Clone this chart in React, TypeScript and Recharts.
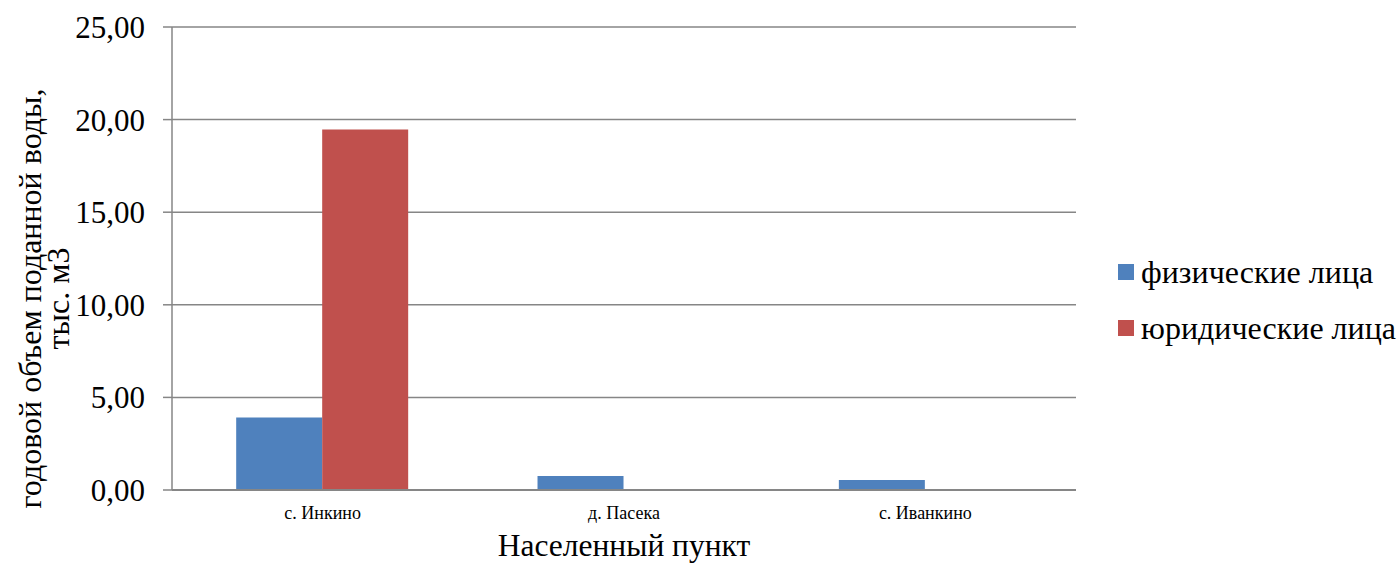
import React from 'react';
import { BarChart, Bar, XAxis, YAxis, CartesianGrid } from 'recharts';

const categories = ['с. Инкино', 'д. Пасека', 'с. Иванкино'];
const physical = [3.92, 0.76, 0.54];
const legal = [19.47, 0, 0];
const yTicks = [0, 5, 10, 15, 20, 25];
const seriesNames = ['физические лица', 'юридические лица'];
const colors = ['#4F81BD', '#C0504D'];
const yTitle = ['годовой объем поданной воды,', 'тыс. м3'];
const xTitle = 'Населенный пункт';

const data = categories.map((c, i) => ({ name: c, physical: physical[i], legal: legal[i] }));

const FONT = '"Liberation Serif", "Times New Roman", serif';
const GRID = '#868686';

const fmt = (v: number) => v.toFixed(2).replace('.', ',');

const YTitle = (props: any) => {
  const vb = props.viewBox || {};
  const cy = vb.y + vb.height / 2 + 40;
  const x1 = 41;
  const x2 = 69;
  return (
    <g>
      <text x={x1} y={cy} transform={`rotate(-90 ${x1} ${cy})`} textAnchor="middle" fontFamily={FONT} fontSize={32} fill="#000">
        {yTitle[0]}
      </text>
      <text x={x2} y={cy} transform={`rotate(-90 ${x2} ${cy})`} textAnchor="middle" fontFamily={FONT} fontSize={32} fill="#000">
        {yTitle[1]}
      </text>
    </g>
  );
};

const XTitle = (props: any) => {
  const vb = props.viewBox || {};
  return (
    <text x={vb.x + vb.width / 2} y={vb.y + 66} textAnchor="middle" fontFamily={FONT} fontSize={31.5} fill="#000">
      {xTitle}
    </text>
  );
};

const LegendBox = () => (
  <div style={{ position: 'absolute', left: 1118, top: 244, fontFamily: FONT, fontSize: 32, color: '#000' }}>
    {seriesNames.map((n, i) => (
      <div key={n} style={{ display: 'flex', alignItems: 'center', height: 56, whiteSpace: 'nowrap' }}>
        <span style={{ display: 'inline-block', width: 16, height: 16, background: colors[i], marginRight: 7 }} />
        <span style={{ lineHeight: '36px' }}>{n}</span>
      </div>
    ))}
  </div>
);

export default function App() {
  return (
    <div style={{ position: 'absolute', left: 0, top: 0, width: 1400, height: 564, background: '#fff', overflow: 'hidden' }}>
      <BarChart
        width={1400}
        height={564}
        data={data}
        margin={{ top: 27, right: 324, bottom: 0, left: 0 }}
        barCategoryGap="21.3%"
        barGap={0}
      >
        <CartesianGrid vertical={false} stroke={GRID} strokeWidth={1.5} />
        <XAxis
          dataKey="name"
          axisLine={{ stroke: GRID, strokeWidth: 2 }}
          tickLine={false}
          tickSize={0}
          tickMargin={16}
          height={74}
          tick={{ fontFamily: FONT, fontSize: 18, fill: '#000' }}
          label={<XTitle />}
        />
        <YAxis
          width={172}
          domain={[0, 25]}
          ticks={yTicks}
          interval={0}
          tickFormatter={fmt}
          axisLine={{ stroke: GRID, strokeWidth: 1.5 }}
          tickLine={{ stroke: GRID, strokeWidth: 1.5 }}
          tickSize={9}
          tickMargin={18}
          tick={{ fontFamily: FONT, fontSize: 31, fill: '#000' }}
          label={<YTitle />}
        />
        <Bar dataKey="physical" name={seriesNames[0]} fill={colors[0]} isAnimationActive={false} />
        <Bar dataKey="legal" name={seriesNames[1]} fill={colors[1]} isAnimationActive={false} />
      </BarChart>
      <LegendBox />
    </div>
  );
}
